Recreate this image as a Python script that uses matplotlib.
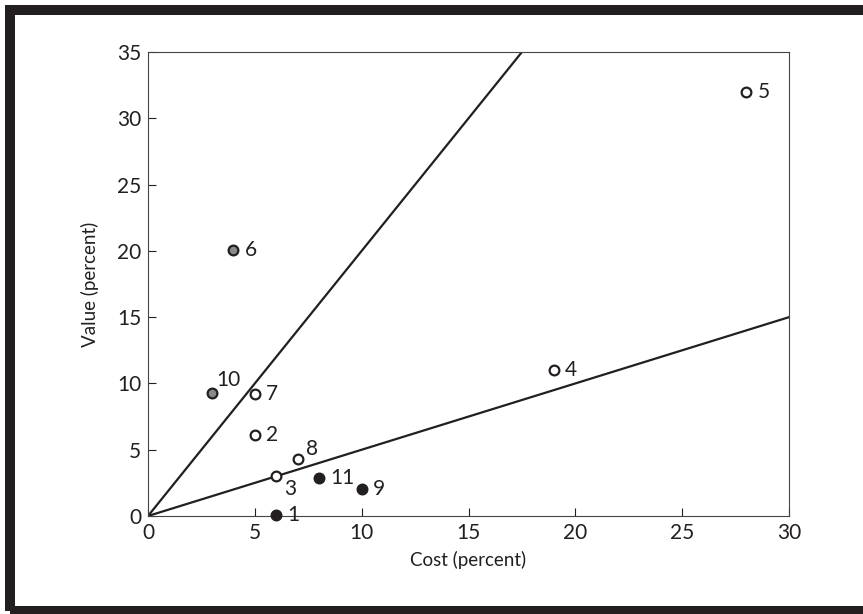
import matplotlib.pyplot as plt
from matplotlib.patches import Rectangle

plt.rcParams['font.family'] = ['Lato', 'DejaVu Sans']

# data
labels = ['1', '2', '3', '4', '5', '6', '7', '8', '9', '10', '11']
cost = [6, 5, 6, 19, 28, 4, 5, 7, 10, 3, 8]
value = [0.1, 6.1, 3.0, 11.0, 32.0, 20.1, 9.2, 4.3, 2.0, 9.3, 2.9]
kind = ['black', 'open', 'open', 'open', 'open', 'gray', 'open', 'open', 'black', 'gray', 'black']

slopes = [2.0, 0.5]

fills = {'black': '#231f20', 'open': 'white', 'gray': '#8a8a8a'}
# label offsets in points
offsets = {'3': (6, -9), '8': (6, 7), '10': (3, 9)}

fig = plt.figure(figsize=(8.63, 6.14), dpi=100)
ax = fig.add_axes([0.1715, 0.1596, 0.7428, 0.7557])

xs = [0, 30]
for s in slopes:
    ax.plot(xs, [s * x for x in xs], color='#231f20', lw=1.6, zorder=2)

for lab, x, y, k in zip(labels, cost, value, kind):
    ax.plot(x, y, 'o', ms=7, mfc=fills[k], mec='#231f20', mew=1.6, zorder=3, clip_on=False)
    dx, dy = offsets.get(lab, (8, 0))
    ax.annotate(lab, (x, y), xytext=(dx, dy), textcoords='offset points',
                ha='left', va='center', fontsize=15, color='#231f20')

ax.set_xlim(0, 30)
ax.set_ylim(0, 35)
ax.set_xticks(range(0, 31, 5))
ax.set_yticks(range(0, 36, 5))
ax.tick_params(direction='in', length=6, width=0.8, labelsize=15, colors='#231f20', pad=5)
for sp in ax.spines.values():
    sp.set_linewidth(0.8)
    sp.set_color('#444444')
ax.set_xlabel('Cost (percent)', fontsize=13.5, color='#231f20', labelpad=6)
ax.set_ylabel('Value (percent)', fontsize=13.5, color='#231f20', labelpad=13)

# thick frame around the figure
fig.patches.append(Rectangle((10 / 863, 1 - 611 / 614), 870 / 863, 601 / 614,
                             transform=fig.transFigure, fill=False,
                             ec='#231f20', lw=7.2, zorder=0))

fig.savefig('out.png', dpi=100)
